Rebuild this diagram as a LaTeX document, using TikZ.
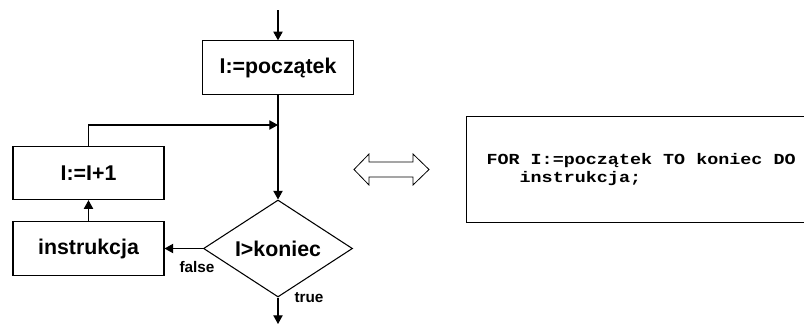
\documentclass[tikz,border=0pt]{standalone}
\usepackage{fontspec}
\setmainfont{Liberation Sans}
\newfontfamily\kodfont{Liberation Mono}[FakeStretch=1.2]
\usetikzlibrary{arrows.meta, positioning, shapes.geometric}

\begin{document}
\begin{tikzpicture}[x=0.75pt, y=-0.75pt, >={Triangle[length=6.5pt,width=7pt]}, line width=0.8pt,
	blok/.style={draw, rectangle, minimum width=113.25pt, minimum height=40pt, inner sep=0pt, font=\fontsize{16}{19}\selectfont\bfseries},
	warunek/.style={draw, diamond, aspect=1.5, minimum width=111.75pt, minimum height=72.75pt, inner sep=0pt, font=\fontsize{16}{19}\selectfont\bfseries},
	etykieta/.style={inner sep=0pt, anchor=base, font=\fontsize{11.5}{13}\selectfont\bfseries}]
	
	\useasboundingbox (0,0) rectangle (804,329);
	\clip (0,0) rectangle (804,329);
	
	%Bloki
	\node (init) [blok] at (278,67.5) {I:=początek};
	\node (cond) [warunek] at (278,248.5) {I>koniec};
	\node (inc) [blok] at (88.5,173) {I:=I+1};
	\node (body) [blok] at (88.5,248.5) {instrukcja};
	\coordinate (start) at (278,10);
	\coordinate (join) at (278,125);
	\coordinate (stop) at (278,324);
	\node (fal) [etykieta] at (197,272) {false};
	\node (tru) [etykieta] at (309,302) {true};
	
	%Polaczenia
	\draw[->] (start) -- (init);
	\draw[->] (init) -- (cond);
	\draw[->] (inc.north) |- (join);
	\draw[->] (cond) -- (body);
	\draw[->] (body) -- (inc);
	\draw[->] (cond) -- (stop);
	
	%Strzalka podwojna
	\draw[line width=0.6pt] (354,169.5) -- (369,154) -- (369,162) -- (413,162) -- (413,154) -- (429,169.5)
	-- (413,185) -- (413,177) -- (369,177) -- (369,185) -- cycle;
	
	%Kod
	\node (kod) [draw, anchor=north west, minimum width=258pt, minimum height=79.5pt, text width=250pt,
	inner xsep=15pt, inner ysep=0pt, align=left, font=\fontsize{11.5}{13.5}\kodfont\bfseries]
	at (466,116) {\spaceskip=\fontcharwd\font`x\relax
		FOR I:=początek TO koniec DO\\\hphantom{xxx}instrukcja;};
	
\end{tikzpicture}
\end{document}
